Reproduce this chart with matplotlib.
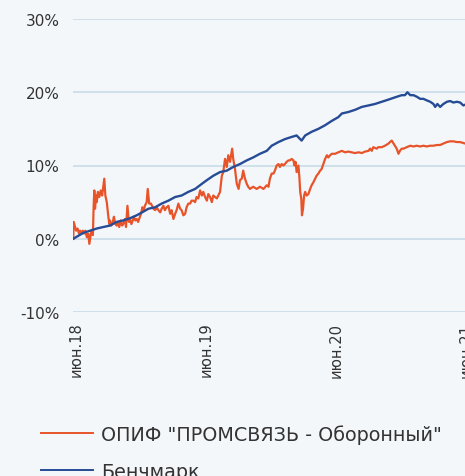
import matplotlib
matplotlib.use("Agg")
import matplotlib.pyplot as plt
import pandas as pd

fund_dates = [
    "2018-05-24","2018-05-25","2018-05-28","2018-06-01","2018-06-05","2018-06-09","2018-06-12","2018-06-16",
    "2018-06-20","2018-06-23","2018-06-27","2018-07-01","2018-07-05","2018-07-08","2018-07-12","2018-07-14",
    "2018-07-18","2018-07-20","2018-07-22","2018-07-24","2018-07-27","2018-07-29","2018-08-01","2018-08-05",
    "2018-08-09","2018-08-13","2018-08-16","2018-08-19","2018-08-22","2018-08-26","2018-08-30","2018-09-02",
    "2018-09-04","2018-09-08","2018-09-12","2018-09-15","2018-09-19","2018-09-23","2018-09-26","2018-09-30",
    "2018-10-04","2018-10-08","2018-10-11","2018-10-16","2018-10-19","2018-10-23","2018-10-27","2018-10-30",
    "2018-11-03","2018-11-07","2018-11-10","2018-11-14","2018-11-18","2018-11-22","2018-11-30","2018-12-04",
    "2018-12-08","2018-12-11","2018-12-16","2018-12-19","2018-12-23","2018-12-28","2019-01-04","2019-01-09",
    "2019-01-13","2019-01-18","2019-01-23","2019-01-27","2019-02-01","2019-02-05","2019-02-10","2019-02-15",
    "2019-02-20","2019-02-24","2019-03-01","2019-03-06","2019-03-10","2019-03-15","2019-03-20","2019-03-24",
    "2019-03-29","2019-04-03","2019-04-07","2019-04-12","2019-04-17","2019-04-21","2019-04-26","2019-05-01",
    "2019-05-05","2019-05-10","2019-05-15","2019-05-20","2019-05-24","2019-05-29","2019-06-03","2019-06-07",
    "2019-06-12","2019-06-17","2019-06-21","2019-06-26","2019-07-01","2019-07-05","2019-07-10","2019-07-15",
    "2019-07-19","2019-07-24","2019-07-29","2019-08-02","2019-08-07","2019-08-13","2019-08-16","2019-08-21",
    "2019-08-26","2019-08-31","2019-09-04","2019-09-09","2019-09-13","2019-09-18","2019-09-23","2019-09-27",
    "2019-10-02","2019-10-11","2019-10-21","2019-10-30","2019-11-09","2019-11-18","2019-11-23","2019-11-27",
    "2019-12-02","2019-12-07","2019-12-11","2019-12-16","2019-12-21","2019-12-25","2019-12-30","2020-01-04",
    "2020-01-08","2020-01-13","2020-01-18","2020-01-22","2020-01-27","2020-02-01","2020-02-04","2020-02-07",
    "2020-02-10","2020-02-15","2020-02-18","2020-02-20","2020-02-23","2020-02-25","2020-02-28","2020-03-02",
    "2020-03-05","2020-03-09","2020-03-14","2020-03-19","2020-03-23","2020-03-28","2020-04-02","2020-04-06",
    "2020-04-11","2020-04-16","2020-04-20","2020-04-25","2020-04-30","2020-05-05","2020-05-09","2020-05-14",
    "2020-05-19","2020-05-28","2020-06-06","2020-06-16","2020-06-25","2020-07-04","2020-07-14","2020-07-23",
    "2020-08-02","2020-08-11","2020-08-20","2020-08-30","2020-09-03","2020-09-08","2020-09-12","2020-09-17",
    "2020-09-22","2020-09-26","2020-10-06","2020-10-15","2020-10-25","2020-10-29","2020-11-03","2020-11-08",
    "2020-11-12","2020-11-17","2020-11-22","2020-11-26","2020-12-01","2020-12-06","2020-12-15","2020-12-25",
    "2021-01-03","2021-01-12","2021-01-22","2021-01-31","2021-02-09","2021-02-19","2021-02-28","2021-03-10",
    "2021-03-19","2021-03-28","2021-04-07","2021-04-16","2021-04-25","2021-05-05","2021-05-14","2021-05-28",
    "2021-06-10",
]
fund_values = [
    0.0, 2.3, 1.8, 1.1, 1.4, 0.7, 1.1, 0.9,
    1.1, 0.7, 1.1, 0.2, 0.7, -0.7, 0.5, 1.1,
    0.5, 4.3, 6.6, 4.1, 5.9, 5.0, 6.4, 5.7,
    6.6, 5.9, 7.1, 8.2, 5.9, 5.0, 3.2, 2.0,
    2.5, 1.8, 2.3, 3.0, 2.0, 1.8, 2.3, 1.6,
    2.5, 1.8, 2.0, 2.7, 1.6, 4.5, 2.3, 2.7,
    2.0, 2.5, 3.0, 2.5, 2.7, 2.3, 3.4, 4.3,
    3.9, 4.5, 5.0, 6.8, 4.8, 4.8, 4.1, 3.9,
    4.3, 3.9, 3.6, 4.1, 4.5, 3.9, 4.3, 4.5,
    3.4, 3.9, 2.7, 3.4, 3.9, 4.8, 4.1, 3.9,
    3.2, 3.4, 4.3, 4.8, 4.8, 5.2, 5.2, 5.0,
    5.7, 5.5, 6.6, 5.9, 6.4, 5.7, 5.2, 6.1,
    5.7, 5.0, 5.9, 5.7, 5.5, 5.9, 6.4, 8.6,
    9.1, 10.9, 9.8, 11.4, 10.5, 12.3, 10.9, 9.5,
    7.5, 6.8, 8.0, 8.2, 9.3, 8.2, 7.5, 7.1,
    6.8, 7.1, 6.8, 7.1, 6.8, 7.3, 7.1, 8.2,
    8.9, 8.9, 9.3, 10.0, 10.2, 9.8, 10.2, 10.0,
    10.2, 10.5, 10.7, 10.7, 10.9, 10.7, 10.0, 10.5,
    9.1, 10.0, 8.2, 6.4, 5.5, 3.2, 4.1, 5.9,
    6.4, 5.9, 6.1, 6.8, 7.3, 7.7, 8.2, 8.6,
    8.9, 9.3, 9.5, 10.2, 10.9, 11.4, 11.1, 11.4,
    11.6, 11.6, 11.8, 12.0, 11.8, 11.9, 11.8, 11.7,
    11.8, 11.7, 11.9, 12.0, 12.3, 12.0, 12.5, 12.4,
    12.3, 12.5, 12.5, 12.7, 13.0, 13.2, 13.4, 13.0,
    12.7, 12.3, 11.6, 12.0, 12.3, 12.3, 12.5, 12.7,
    12.6, 12.7, 12.6, 12.7, 12.6, 12.7, 12.7, 12.8,
    12.8, 13.0, 13.2, 13.3, 13.3, 13.2, 13.2, 13.0,
    13.0,
]

bench_dates = [
    "2018-05-24","2018-06-21","2018-07-10","2018-07-29","2018-08-16","2018-09-04","2018-09-23","2018-10-11",
    "2018-10-30","2018-11-18","2018-12-03","2018-12-21","2019-01-09","2019-01-27","2019-02-15","2019-03-06",
    "2019-03-24","2019-04-12","2019-05-01","2019-05-20","2019-06-03","2019-06-21","2019-07-10","2019-07-29",
    "2019-08-16","2019-09-04","2019-09-23","2019-10-11","2019-10-30","2019-11-18","2019-12-02","2019-12-21",
    "2020-01-08","2020-01-27","2020-02-10","2020-02-20","2020-02-24","2020-03-05","2020-03-23","2020-04-11",
    "2020-04-30","2020-05-19","2020-06-06","2020-06-16","2020-07-04","2020-07-23","2020-08-11","2020-08-30",
    "2020-09-17","2020-10-06","2020-10-25","2020-11-12","2020-12-01","2020-12-10","2020-12-17","2020-12-25",
    "2021-01-03","2021-01-12","2021-01-22","2021-01-31","2021-02-09","2021-02-19","2021-02-28","2021-03-05",
    "2021-03-11","2021-03-19","2021-03-28","2021-04-07","2021-04-16","2021-04-25","2021-05-05","2021-05-14",
    "2021-05-23","2021-05-28","2021-06-10",
]
bench_values = [
    0.0, 0.8, 1.1, 1.4, 1.6, 1.8, 2.3, 2.5,
    2.8, 3.2, 3.6, 4.1, 4.3, 4.8, 5.2, 5.7,
    5.9, 6.4, 6.8, 7.5, 8.0, 8.6, 9.1, 9.3,
    9.8, 10.2, 10.7, 11.1, 11.6, 12.0, 12.7, 13.2,
    13.6, 13.9, 14.1, 13.6, 13.4, 14.1, 14.6, 15.0,
    15.5, 16.1, 16.6, 17.1, 17.3, 17.6, 18.0, 18.2,
    18.4, 18.7, 19.0, 19.3, 19.6, 19.6, 20.0, 19.6,
    19.6, 19.4, 19.1, 19.1, 18.9, 18.7, 18.4, 18.0,
    18.4, 18.0, 18.4, 18.7, 18.8, 18.6, 18.7, 18.6,
    18.2, 18.3, 18.3,
]

y_ticks = [-10, 0, 10, 20, 30]
x_tick_dates = ["2018-06-01", "2019-06-01", "2020-06-01", "2021-06-01"]
x_tick_labels = ["июн.18", "июн.19", "июн.20", "июн.21"]
series_labels = ['ОПИФ "ПРОМСВЯЗЬ - Оборонный"', "Бенчмарк"]

BG = "#F4F7FA"
ORANGE = "#E8542A"
BLUE = "#274C96"
GRID = "#C9DCE7"
TEXT = "#333333"

plt.rcParams["font.family"] = ["DejaVu Sans"]

W, H = 465, 477
fig = plt.figure(figsize=(W / 100, H / 100), dpi=100, facecolor=BG)
x0_px, x1_px = 73.3, 473.3
y_top, y_bot = 20, 313
ax = fig.add_axes([x0_px / W, 1 - y_bot / H, (x1_px - x0_px) / W, (y_bot - y_top) / H])
ax.set_facecolor(BG)

fd = pd.to_datetime(fund_dates)
bd = pd.to_datetime(bench_dates)
ax.plot(fd, fund_values, color=ORANGE, lw=1.6, solid_joinstyle="round", zorder=3)
ax.plot(bd, bench_values, color=BLUE, lw=1.7, solid_joinstyle="round", zorder=4)

ax.set_xlim(pd.Timestamp("2018-05-24"), pd.Timestamp("2021-06-20"))
ax.set_ylim(-10, 30)
ax.set_yticks(y_ticks)
ax.set_yticklabels([f"{v}%" for v in y_ticks], fontsize=11, color=TEXT)
ax.set_xticks(pd.to_datetime(x_tick_dates))
ax.set_xticklabels(x_tick_labels, rotation=90, fontsize=10.5, color=TEXT, va="top", ha="center")
ax.tick_params(axis="both", length=0)
ax.tick_params(axis="y", pad=10)
ax.tick_params(axis="x", pad=7)
ax.grid(axis="y", color=GRID, lw=1.2)
ax.set_axisbelow(True)
for s in ax.spines.values():
    s.set_visible(False)

handles = ax.get_lines()
leg = fig.legend(handles, series_labels, loc="upper left", bbox_to_anchor=(24 / W, 1 - 408 / H),
                 frameon=False, fontsize=13.8, handlelength=2.7, handletextpad=0.4,
                 labelspacing=0.95, labelcolor=TEXT)
for l in leg.get_lines():
    l.set_linewidth(1.4)

fig.savefig("out.png", dpi=100, facecolor=BG)
